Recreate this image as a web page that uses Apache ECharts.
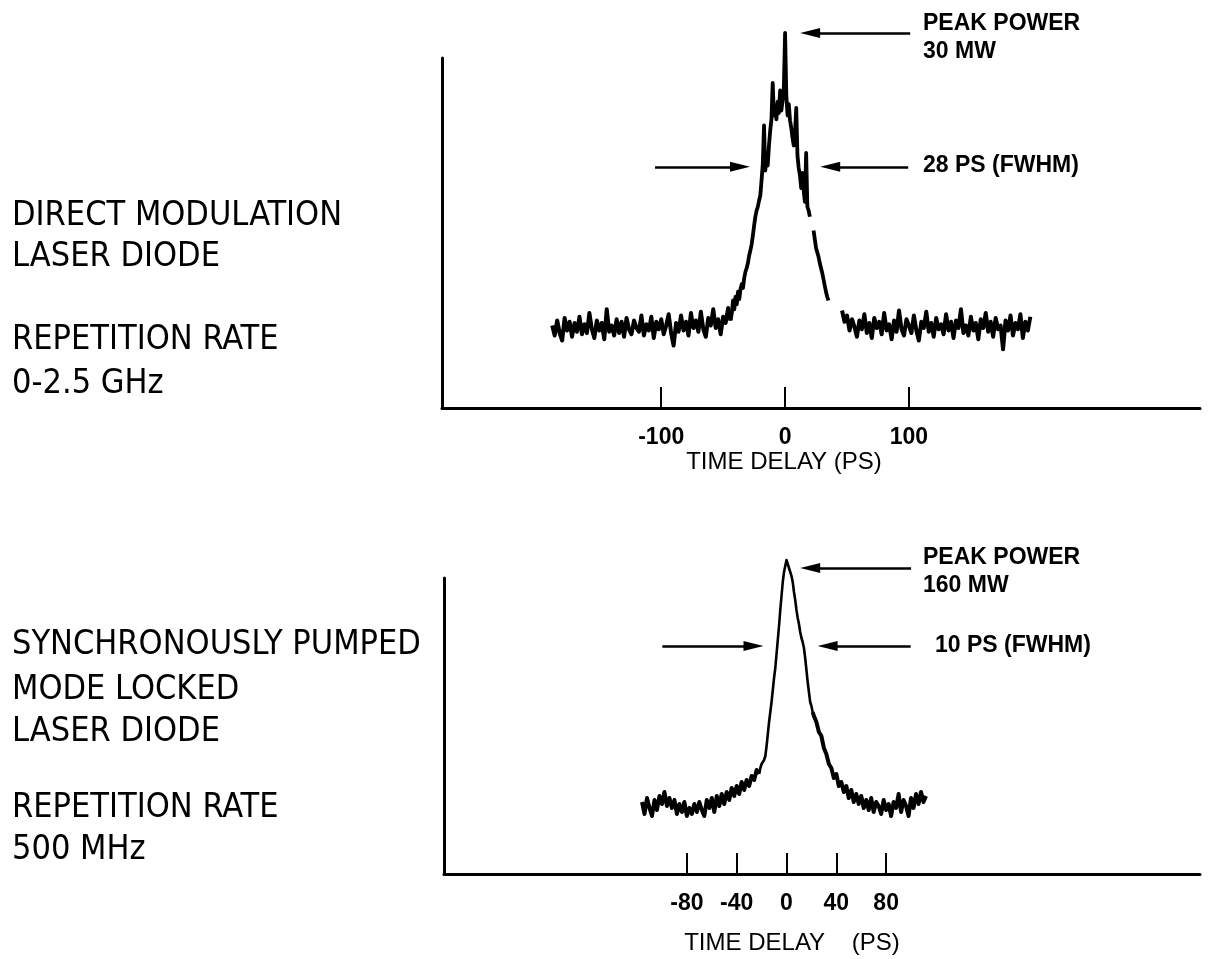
<!DOCTYPE html>
<html>
<head>
<meta charset="utf-8">
<script src="https://cdn.jsdelivr.net/npm/echarts@6/dist/echarts.min.js"></script>
<style>html,body{margin:0;padding:0;background:#fff}#c{width:1216px;height:959px}</style>
</head>
<body>
<div id="c"></div>
<script>
// ---------- DATA ----------
// Top trace: direct modulation laser diode (time in ps, arbitrary power units; peak = 30)
var topLeftStart = -188, topLeftStep = 2;
var topLeftVals = [
6.6,5.8,7.0,6.0,5.4,7.2,6.2,6.9,5.7,6.8,
6.1,7.3,5.9,6.7,6.0,7.6,6.3,5.6,7.0,6.2,
6.8,5.5,7.9,6.1,6.6,5.8,7.1,6.0,6.9,5.7,
7.2,6.3,5.9,7.0,6.4,6.1,7.4,5.8,6.7,6.2,
7.3,5.6,6.9,6.3,7.1,5.9,6.6,7.5,6.0,5.0,
6.8,6.1,7.4,6.2,6.9,5.8,7.6,6.4,7.0,6.1,
7.7,6.3,5.7,7.2,6.6,7.9,6.4,7.1,5.9,7.3,
6.8,8.0,7.0];
var topPeakStart = -43, topPeakStep = 1;
var topPeakVals = [
7.6,8.6,7.9,8.9,8.3,9.3,8.7,9.5,9.9,9.6,
10.4,10.9,11.2,11.6,12.2,12.6,13.1,13.8,14.6,15.3,
15.8,16.1,16.6,17.0,18.2,19.5,22.6,19.0,20.3,19.4,
21.0,22.2,23.1,26.0,23.4,24.2,23.1,24.5,23.6,25.4,
23.8,24.6,25.6,30.0,25.0,23.4,24.3,23.0,22.4,21.6,
21.0,22.0,24.0,20.2,19.2,18.6,17.6,18.8,17.4,16.5,
20.4,16.1,15.8,15.3,null,null,14.2,13.5,12.8,12.9,
12.1,11.6,11.2,10.8,10.3,9.8,9.3,8.9,8.6];
var topRightStart = 46, topRightStep = 2;
var topRightVals = [
7.8,6.9,7.4,6.2,7.1,6.5,5.7,7.0,6.3,7.5,
6.0,6.8,5.6,7.2,6.4,6.9,5.9,7.6,6.2,6.7,
5.5,7.0,6.1,7.8,6.3,5.8,7.1,6.6,6.0,7.4,
6.2,5.4,6.9,6.4,7.7,6.1,6.8,5.7,7.2,6.3,
6.7,5.9,7.5,6.2,6.9,5.6,7.0,6.4,7.9,6.0,
6.6,5.8,7.3,6.2,6.8,5.5,7.1,6.4,7.6,6.1,
6.9,5.7,7.2,6.3,6.6,4.7,7.0,6.2,7.4,5.8,
6.8,6.3,7.5,5.6,6.9,6.2,7.3];

// Bottom trace: synchronously pumped mode locked laser diode (peak = 157 units)
var botLeftStart = -116, botLeftStep = 2;
var botLeftVals = [
36,30,38,33,29,37,32,39,35,41,
34,38,33,37,30,35,31,36,29,33,
30,35,31,36,32,29,37,33,38,31,
39,34,40,35,41,37,43,39,44,40,
46,42,47,44,49,47,52,50];
var botPeakStart = -21, botPeakStep = 1;
var botPeakVals = [
53,55,54,57,59,64,70,76,81,86,
92,98,103,110,117,124,132,139,146,151,
154,157,155,153,151,149,146,141,137,132,
128,125,121,118,116,113,108,102,96,91,
86,84,81];
var botRightStart = 22, botRightStep = 2;
var botRightVals = [
79,76,71,69,63,60,55,53,48,50,
44,46,41,44,38,42,36,40,35,39,
33,37,32,38,31,36,34,30,37,32,
35,29,36,33,40,31,37,34,29,38,
33,40,35,41,36,39];

// Axis ticks
var topTicks = [-100, 0, 100];
var botTicks = [-80, -40, 0, 40, 80];

// Annotation arrows: [tail time, head time, level]
var topPeakArrow = [101, 20.2, 30];
var topFwhmLeft = [-105, -36.4, 19.3];
var topFwhmRight = [99.4, 36.4, 19.3];
var botPeakArrow = [100, 19, 153];
var botFwhmLeft = [-99.7, -26.5, 114];
var botFwhmRight = [99.7, 33, 114];

// ---------- BUILD ----------
function seg(t0, step, vals, prev) {
  var d = vals.map(function (v, i) { return [t0 + i * step, v == null ? '-' : v]; });
  if (prev) d.unshift(prev[prev.length - 1]);   // join to previous segment
  return d;
}
function arrow(a) { return [{ coord: [a[0], a[2]] }, { coord: [a[1], a[2]] }]; }

var topL = seg(topLeftStart, topLeftStep, topLeftVals);
var topP = seg(topPeakStart, topPeakStep, topPeakVals, topL);
var topR = seg(topRightStart, topRightStep, topRightVals);
var botL = seg(botLeftStart, botLeftStep, botLeftVals);
var botP = seg(botPeakStart, botPeakStep, botPeakVals, botL);
var botR = seg(botRightStart, botRightStep, botRightVals, botP);

var BOLD = 'bold 23px "Liberation Sans", Arial, sans-serif';
var COND = '34px "DejaVu Sans Condensed", "Liberation Sans Narrow", "DejaVu Sans", sans-serif';
function txt(t, x, y, font) {
  return { type: 'text', x: x, y: y, style: { text: t, font: font, fill: '#000', verticalAlign: 'middle' } };
}

var markStyle = {
  silent: true, symbol: ['none', 'triangle'], symbolSize: [10, 20],
  lineStyle: { color: '#000', width: 2.5, type: 'solid' },
  itemStyle: { color: '#000' },
  label: { show: false }, emphasis: { disabled: true }, animation: false
};

function line(xi, data, w, marks) {
  var s = { type: 'line', xAxisIndex: xi, yAxisIndex: xi, data: data, showSymbol: false, symbol: 'none',
    connectNulls: false, lineStyle: { color: '#000', width: w, join: 'round' }, silent: true };
  if (marks) s.markLine = Object.assign({ data: marks }, markStyle);
  return s;
}

var axisBase = function (ticks, min, max, gi) {
  return { gridIndex: gi, type: 'value', min: min, max: max,
    axisLine: { show: true, onZero: false, lineStyle: { color: '#000', width: 3 } },
    axisTick: { show: true, inside: true, length: 21, customValues: ticks, lineStyle: { color: '#000', width: 2 } },
    axisLabel: { show: true, customValues: ticks, margin: 18, color: '#000', fontSize: 23, fontWeight: 'bold', fontFamily: '"Liberation Sans", Arial, sans-serif' },
    splitLine: { show: false } };
};
var yLine = function (gi, max) {
  return { gridIndex: gi, type: 'value', min: 0, max: max,
    axisLine: { show: true, onZero: false, lineStyle: { color: '#000', width: 3 } },
    axisTick: { show: false }, axisLabel: { show: false }, splitLine: { show: false } };
};

var chart = echarts.init(document.getElementById('c'), null, { renderer: 'canvas' });
chart.setOption({
  animation: false,
  backgroundColor: '#fff',
  grid: [
    { left: 442, top: 8, width: 758, height: 400 },
    { left: 442, top: 58, width: 758, height: 350 },
    { left: 444, top: 554, width: 756, height: 320 },
    { left: 444, top: 578, width: 756, height: 296 }
  ],
  xAxis: [
    axisBase(topTicks, -277, 335, 0),
    { gridIndex: 1, type: 'value', min: -277, max: 335, show: false },
    axisBase(botTicks, -275, 332, 2),
    { gridIndex: 3, type: 'value', min: -275, max: 332, show: false }
  ],
  yAxis: [
    { gridIndex: 0, type: 'value', min: 0, max: 32, show: false },
    yLine(1, 28),
    { gridIndex: 2, type: 'value', min: 0, max: 160, show: false },
    yLine(3, 148)
  ],
  series: [
    line(0, topL, 4),
    line(0, topP, 3.8, [arrow(topPeakArrow), arrow(topFwhmLeft), arrow(topFwhmRight)]),
    line(0, topR, 4),
    line(2, botL, 4),
    line(2, botP, 2.6, [arrow(botPeakArrow), arrow(botFwhmLeft), arrow(botFwhmRight)]),
    line(2, botR, 4)
  ],
  graphic: [
    txt('DIRECT MODULATION', 12, 216, COND),
    txt('LASER DIODE', 12, 257, COND),
    txt('REPETITION RATE', 12, 340, COND),
    txt('0-2.5 GHz', 12, 384, COND),
    txt('SYNCHRONOUSLY PUMPED', 12, 645, COND),
    txt('MODE LOCKED', 12, 690, COND),
    txt('LASER DIODE', 12, 732, COND),
    txt('REPETITION RATE', 12, 808, COND),
    txt('500 MHz', 12, 850, COND),
    txt('PEAK POWER', 923, 24, BOLD),
    txt('30 MW', 923, 52, BOLD),
    txt('28 PS (FWHM)', 923, 166, BOLD),
    txt('PEAK POWER', 923, 558, BOLD),
    txt('160 MW', 923, 586, BOLD),
    txt('10 PS (FWHM)', 935, 646, BOLD),
    { type: 'text', x: 784, y: 462, style: { text: 'TIME DELAY (PS)', font: '24px "Liberation Sans", Arial, sans-serif', fill: '#000', align: 'center', verticalAlign: 'middle' } },
    { type: 'text', x: 792, y: 943, style: { text: 'TIME DELAY    (PS)', font: '24px "Liberation Sans", Arial, sans-serif', fill: '#000', align: 'center', verticalAlign: 'middle' } }
  ]
});
</script>
</body>
</html>
